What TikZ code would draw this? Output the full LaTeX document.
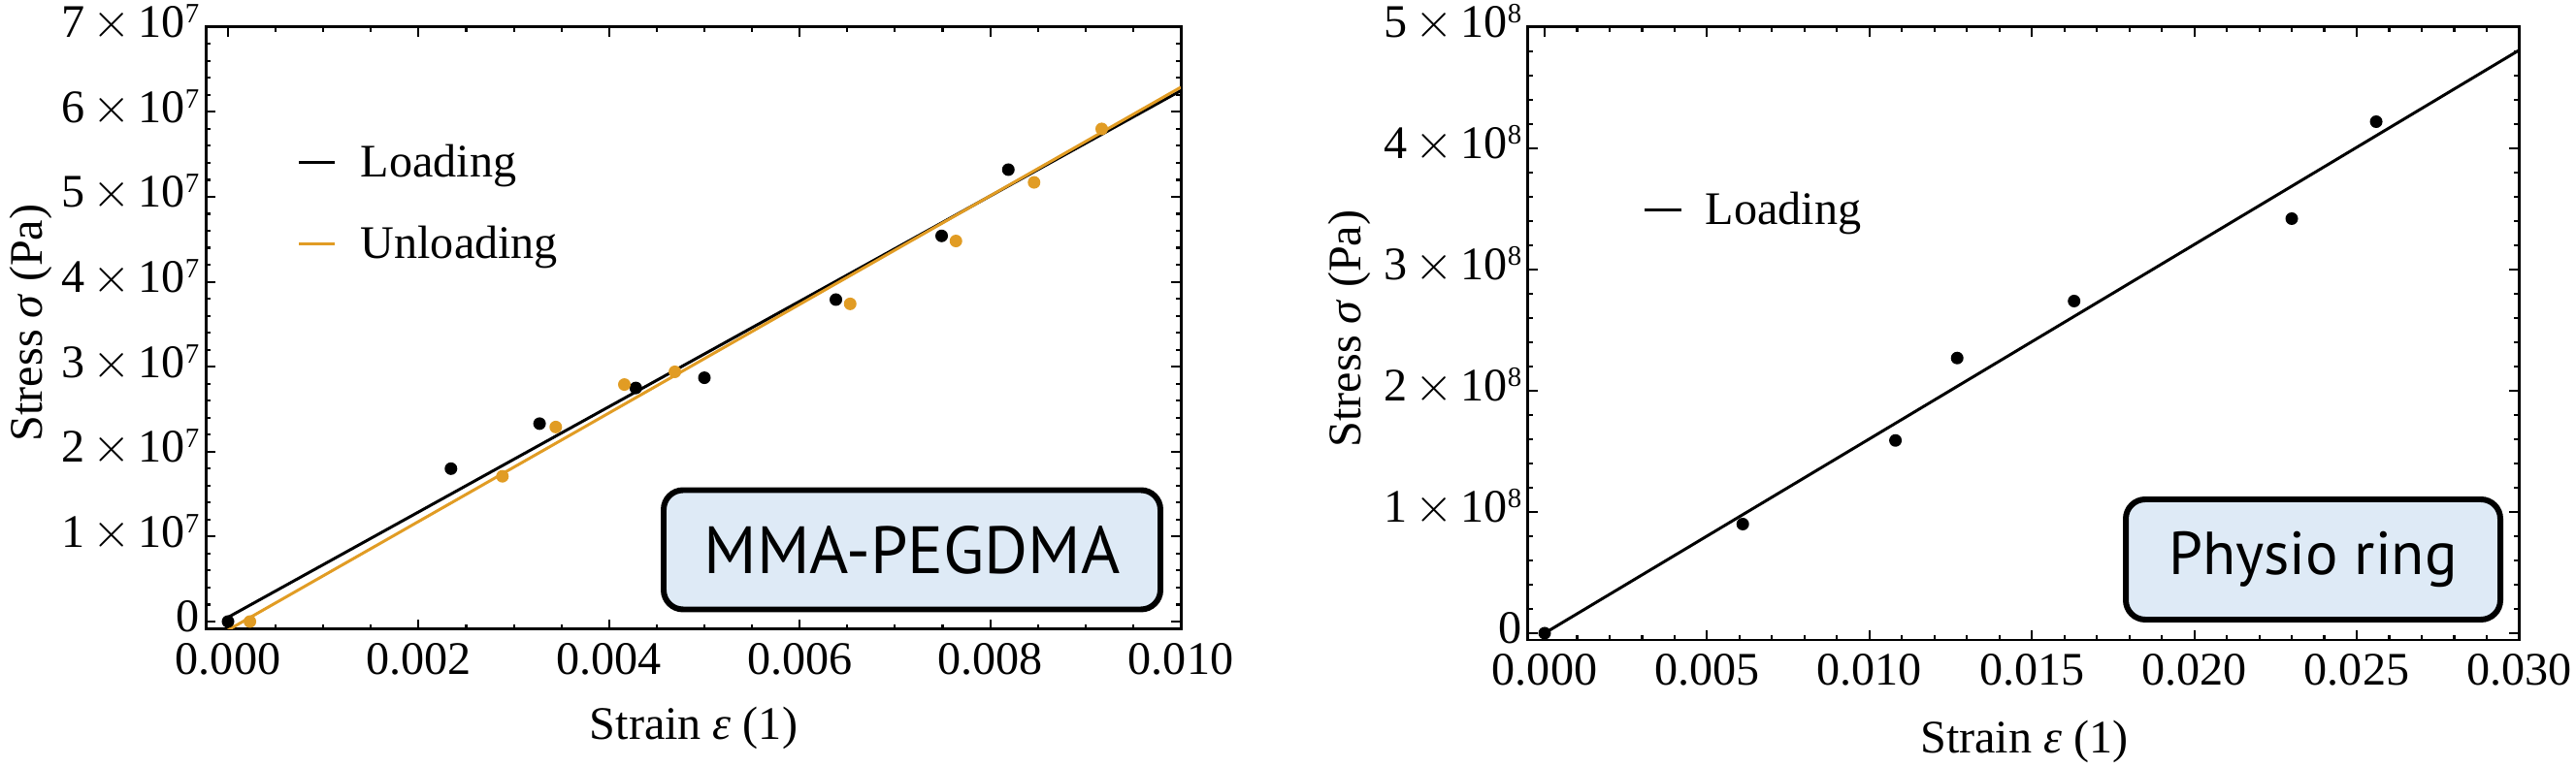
\documentclass[tikz,border=0pt]{standalone}
\usepackage{fontspec}
\setmainfont{Liberation Serif}
\newfontfamily\boxfont{PT Sans}
\usetikzlibrary{calc}
\usetikzlibrary{positioning}
\definecolor{MmaOrange}{HTML}{E19C24}
\definecolor{BoxBlue}{HTML}{DEEAF6}
\newcommand{\sci}[2]{#1\,$\times$\,10\raisebox{4.3pt}{\fontsize{8.2}{9}\selectfont #2}}

\begin{document}
\begin{tikzpicture}[x=1cm,y=1cm,
  every node/.style={inner sep=0pt,font=\fontsize{13.7}{16}\selectfont},
  frame/.style={line width=0.85pt},
  tick/.style={line width=0.6pt},
  fitline/.style={line width=0.85pt},
  dot/.style={circle,fill,inner sep=0pt,minimum size=0.13cm},
  xlab/.style={anchor=base,yshift=-0.47cm},
  ylab/.style={anchor=base east,xshift=-0.06cm,yshift=-0.11cm,text height=0.33cm,text depth=0pt},
  tagbox/.style={draw,line width=1.7pt,rounded corners=0.2cm,fill=BoxBlue,
    minimum height=1.23cm}]
  \useasboundingbox (0,0) rectangle (26.55,7.91);

  % MMA-PEGDMA
  \begin{scope}[shift={(2.35,1.50)},x=0.982cm,y=0.876cm]
    \draw[frame] (-0.234,-0.09) rectangle (10,7);
    \foreach \x in {0,0.5,...,10}{%
      \draw[tick] (\x,-0.09) -- ++(0,0.05cm);
      \draw[tick] (\x,7) -- ++(0,-0.05cm);
    }
    \foreach \x/\lab in {0/0.000,2/0.002,4/0.004,6/0.006,8/0.008,10/0.010}{%
      \draw[tick] (\x,-0.09) -- ++(0,0.10cm);
      \draw[tick] (\x,7) -- ++(0,-0.10cm);
      \node[xlab] (mx\x) at (\x,-0.09) {\lab};
    }
    \foreach \i in {0,...,35}{%
      \draw[tick] (-0.234,\i/5) -- ++(0.05cm,0);
      \draw[tick] (10,\i/5) -- ++(-0.05cm,0);
    }
    \foreach \y in {0,...,7}{%
      \draw[tick] (-0.234,\y) -- ++(0.10cm,0);
      \draw[tick] (10,\y) -- ++(-0.10cm,0);
    }
    \node[ylab] (my0) at (-0.234,0) {0};
    \foreach \y in {1,...,7}{%
      \node[ylab] (my\y) at (-0.234,\y) {\sci{\y}{7}};
    }

    \begin{scope}
      \clip (-0.234,-0.09) rectangle (10,7);
      \coordinate (blA) at (0,0.05);
      \coordinate (blB) at (10,6.25);
      \coordinate (olA) at (0,-0.1);
      \coordinate (olB) at (10,6.29);
      \draw[fitline] (blA) -- (blB);
      \draw[fitline,MmaOrange] (olA) -- (olB);
    \end{scope}

    \foreach \p [count=\i] in {(0,0),(2.34,1.80),(3.27,2.33),(4.28,2.75),
      (5.0,2.87),(6.38,3.79),(7.49,4.54),(8.19,5.32)}{%
      \node[dot] (mb\i) at \p {};
    }
    \foreach \p [count=\i] in {(0.23,0),(2.88,1.71),(3.44,2.29),(4.16,2.79),
      (4.69,2.94),(6.53,3.74),(7.64,4.48),(8.46,5.17),(9.17,5.80)}{%
      \node[dot,MmaOrange] (mo\i) at \p {};
    }
  \end{scope}

  \node[anchor=base] (mxlabel) at (7.15,0.28) {Strain \textit{ε} (1)};
  \node[rotate=90,anchor=base] (mylabel) at (0.44,4.58) {Stress \textit{σ} (Pa)};

  \coordinate (lgA) at (3.08,6.23);
  \coordinate (lgB) at (3.45,6.23);
  \coordinate (lgC) at (3.08,5.39);
  \coordinate (lgD) at (3.45,5.39);
  \draw[fitline] (lgA) -- (lgB);
  \draw[fitline,MmaOrange] (lgC) -- (lgD);
  \node[anchor=base west] (lgload) at (3.71,6.08) {Loading};
  \node[anchor=base west] (lgunload) at (3.71,5.24) {Unloading};

  \node[tagbox,minimum width=5.12cm,font=\boxfont\fontsize{19.6}{21}\selectfont] (mmabox) at (9.40,2.24) {MMA-PEGDMA};

  % Physio ring
  \begin{scope}[shift={(15.92,1.38)},x=0.3348cm,y=1.25cm]
    \draw[frame] (-0.51,-0.056) rectangle (30,5);
    \foreach \x in {0,...,30}{%
      \draw[tick] (\x,-0.056) -- ++(0,0.05cm);
      \draw[tick] (\x,5) -- ++(0,-0.05cm);
    }
    \foreach \x/\lab in {0/0.000,5/0.005,10/0.010,15/0.015,20/0.020,25/0.025,30/0.030}{%
      \draw[tick] (\x,-0.056) -- ++(0,0.10cm);
      \draw[tick] (\x,5) -- ++(0,-0.10cm);
      \node[xlab] (px\x) at (\x,-0.056) {\lab};
    }
    \foreach \i in {0,...,25}{%
      \draw[tick] (-0.51,\i/5) -- ++(0.05cm,0);
      \draw[tick] (30,\i/5) -- ++(-0.05cm,0);
    }
    \foreach \y in {0,...,5}{%
      \draw[tick] (-0.51,\y) -- ++(0.10cm,0);
      \draw[tick] (30,\y) -- ++(-0.10cm,0);
    }
    \node[ylab] (py0) at (-0.51,0) {0};
    \foreach \y in {1,...,5}{%
      \node[ylab] (py\y) at (-0.51,\y) {\sci{\y}{8}};
    }

    \coordinate (plA) at (0,0);
    \coordinate (plB) at (30,4.81);
    \draw[fitline] (plA) -- (plB);

    \foreach \p [count=\i] in {(0,0),(6.1,0.90),(10.8,1.59),(12.7,2.27),
      (16.3,2.74),(23.0,3.42),(25.6,4.22)}{%
      \node[dot] (pb\i) at \p {};
    }
  \end{scope}

  \node[anchor=base] (pxlabel) at (20.865,0.14) {Strain \textit{ε} (1)};
  \node[rotate=90,anchor=base] (pylabel) at (14.02,4.52) {Stress \textit{σ} (Pa)};

  \coordinate (lgE) at (16.95,5.74);
  \coordinate (lgF) at (17.33,5.74);
  \draw[fitline] (lgE) -- (lgF);
  \node[anchor=base west] (lgpload) at (17.57,5.59) {Loading};

  \node[tagbox,minimum width=3.86cm,minimum height=1.24cm,font=\boxfont\fontsize{17.8}{19}\selectfont] (physbox) at (23.84,2.14) {Physio ring};
\end{tikzpicture}
\end{document}
